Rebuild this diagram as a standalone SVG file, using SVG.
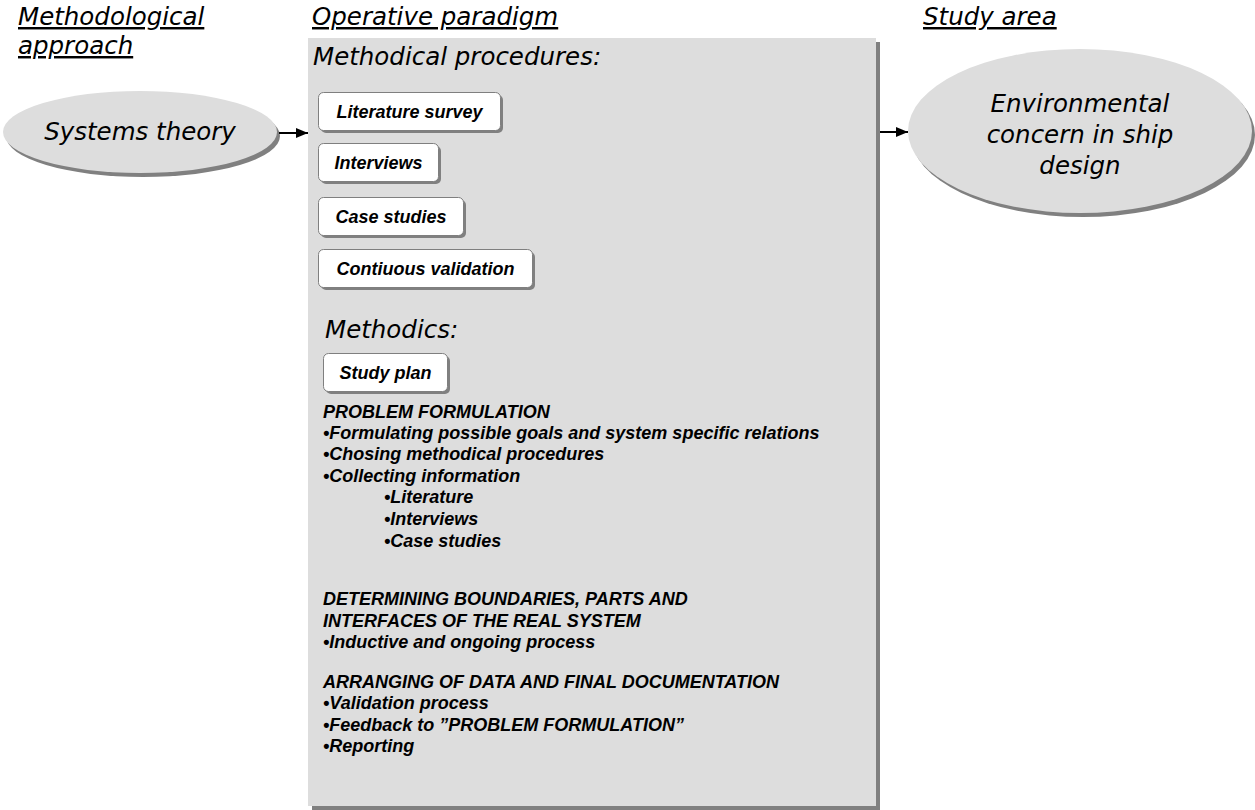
<svg xmlns="http://www.w3.org/2000/svg" width="1255" height="810" viewBox="0 0 1255 810">
  <style>
    .title { font-family: "DejaVu Sans", Verdana, sans-serif; font-style: italic; font-size: 24.5px; fill: #000; }
    .head { text-decoration: underline; }
    .box { fill: #ffffff; stroke: #7f7f7f; stroke-width: 1; }
    .shadow { fill: #808080; }
    .panel { fill: #dddddd; }
    .btxt { font-family: "Liberation Sans", Arial, sans-serif; font-style: italic; font-weight: bold; font-size: 18px; fill: #000; text-anchor: middle; }
    .list { font-family: "Liberation Sans", Arial, sans-serif; font-style: italic; font-weight: bold; font-size: 18px; fill: #000; }
    .conn { stroke: #000; stroke-width: 2; fill: none; }
  </style>
  <defs>
    <marker id="arrow" viewBox="0 0 12 10" refX="12" refY="5" markerWidth="12" markerHeight="10" orient="auto" markerUnits="userSpaceOnUse">
      <path d="M0,0 L12,5 L0,10 z" fill="#000"/>
    </marker>
  </defs>

  <rect width="1255" height="810" fill="#ffffff"/>

  <!-- column headings -->
  <g id="headings">
    <text class="title head" x="18" y="25">Methodological</text>
    <text class="title head" x="18" y="54">approach</text>
    <text class="title head" x="312" y="25">Operative paradigm</text>
    <text class="title head" x="923" y="25">Study area</text>
  </g>

  <!-- central panel -->
  <g id="paradigm">
    <rect class="shadow" x="312" y="42" width="568" height="768"/>
    <rect class="panel" x="308" y="38" width="568" height="768"/>
    <text class="title" x="313" y="65">Methodical procedures:</text>
    <text class="title" x="325" y="338">Methodics:</text>
  </g>

  <!-- method boxes -->
  <g id="literature-survey">
    <rect class="shadow" x="321" y="95" width="182" height="38" rx="5"/>
    <rect class="box" x="318.5" y="92.5" width="182" height="38" rx="5"/>
    <text class="btxt" x="409.5" y="118">Literature survey</text>
  </g>
  <g id="interviews">
    <rect class="shadow" x="321" y="146" width="120" height="38" rx="5"/>
    <rect class="box" x="318.5" y="143.5" width="120" height="38" rx="5"/>
    <text class="btxt" x="378.5" y="169">Interviews</text>
  </g>
  <g id="case-studies">
    <rect class="shadow" x="321" y="200" width="145" height="38" rx="5"/>
    <rect class="box" x="318.5" y="197.5" width="145" height="38" rx="5"/>
    <text class="btxt" x="391" y="223">Case studies</text>
  </g>
  <g id="continuous-validation">
    <rect class="shadow" x="321" y="252" width="214" height="38" rx="5"/>
    <rect class="box" x="318.5" y="249.5" width="214" height="38" rx="5"/>
    <text class="btxt" x="425.5" y="275">Contiuous validation</text>
  </g>
  <g id="study-plan">
    <rect class="shadow" x="326" y="356" width="124" height="38" rx="5"/>
    <rect class="box" x="323.5" y="353.5" width="124" height="38" rx="5"/>
    <text class="btxt" x="385.5" y="379">Study plan</text>
  </g>

  <!-- study plan content -->
  <g id="plan-text" class="list">
    <text x="323" y="418">PROBLEM FORMULATION</text>
    <text x="323" y="439">•Formulating possible goals and system specific relations</text>
    <text x="323" y="460">•Chosing methodical procedures</text>
    <text x="323" y="482">•Collecting information</text>
    <text x="384" y="503">•Literature</text>
    <text x="384" y="525">•Interviews</text>
    <text x="384" y="547">•Case studies</text>
    <text x="323" y="605">DETERMINING BOUNDARIES, PARTS AND</text>
    <text x="323" y="627">INTERFACES OF THE REAL SYSTEM</text>
    <text x="323" y="648">•Inductive and ongoing process</text>
    <text x="323" y="688">ARRANGING OF DATA AND FINAL DOCUMENTATION</text>
    <text x="323" y="709">•Validation process</text>
    <text x="323" y="731">•Feedback to ”PROBLEM FORMULATION”</text>
    <text x="323" y="752">•Reporting</text>
  </g>

  <!-- approach ellipse -->
  <g id="systems-theory">
    <ellipse class="shadow" cx="143" cy="136" rx="137" ry="41"/>
    <ellipse class="panel" cx="140" cy="132" rx="137" ry="41"/>
    <text class="title" x="140" y="140" text-anchor="middle">Systems theory</text>
  </g>

  <!-- study area ellipse -->
  <g id="study-area">
    <ellipse class="shadow" cx="1083" cy="135" rx="172" ry="82"/>
    <ellipse class="panel" cx="1080" cy="131" rx="172" ry="82"/>
    <text class="title" x="1080" y="112" text-anchor="middle">Environmental</text>
    <text class="title" x="1080" y="143" text-anchor="middle">concern in ship</text>
    <text class="title" x="1080" y="174" text-anchor="middle">design</text>
  </g>

  <!-- connectors -->
  <g id="connectors">
    <line class="conn" x1="279" y1="133" x2="308" y2="133" marker-end="url(#arrow)"/>
    <line class="conn" x1="880" y1="132" x2="908" y2="132" marker-end="url(#arrow)"/>
  </g>
</svg>
